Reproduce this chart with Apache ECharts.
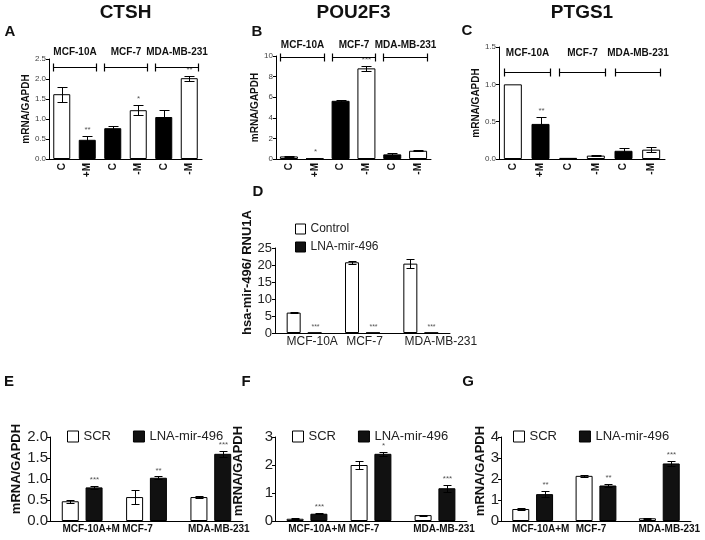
<!DOCTYPE html>
<html><head><meta charset="utf-8">
<script src="https://cdn.jsdelivr.net/npm/echarts@6/dist/echarts.min.js"></script>
<style>html,body{margin:0;padding:0;background:#fff}#c{width:705px;height:540px}</style>
</head><body><div id="c"></div>
<script>
// ---------------- DATA ----------------
const abcCategories = ['C', '+M', 'C', '-M', 'C', '-M'];
const cellLines = ['MCF-10A', 'MCF-7', 'MDA-MB-231'];
const cellGroups = [[0, 1], [2, 3], [4, 5]];

const ctshValues = [1.62, 0.48, 0.77, 1.22, 1.05, 2.02];
const ctshErrors = [0.19, 0.09, 0.06, 0.13, 0.18, 0.06];
const ctshSig = ['', '**', '', '*', '', '**'];

const pou2f3Values = [0.25, 0.05, 5.65, 8.80, 0.45, 0.80];
const pou2f3Errors = [0.06, 0.02, 0.08, 0.25, 0.10, 0.03];
const pou2f3Sig = ['', '*', '', '***', '', ''];

const ptgs1Values = [1.00, 0.47, 0.015, 0.045, 0.11, 0.125];
const ptgs1Errors = [0, 0.09, 0.005, 0.01, 0.035, 0.03];
const ptgs1Sig = ['', '**', '', '', '', ''];

const dCategories = ['MCF-10A', 'MCF-7', 'MDA-MB-231'];
const dControl = [6.0, 20.8, 20.4];
const dControlErr = [0.15, 0.5, 1.4];
const dLNA = [0.1, 0.1, 0.1];
const dLNAErr = [0, 0, 0];
const dLNASig = ['***', '***', '***'];

const efgCategories = ['MCF-10A+M', 'MCF-7', 'MDA-MB-231'];
const eSCR = [0.47, 0.57, 0.57];
const eSCRErr = [0.04, 0.16, 0.02];
const eLNA = [0.80, 1.03, 1.60];
const eLNAErr = [0.03, 0.03, 0.07];
const eSig = ['***', '**', '***'];

const fSCR = [0.08, 2.00, 0.21];
const fSCRErr = [0.01, 0.15, 0.02];
const fLNA = [0.26, 2.40, 1.17];
const fLNAErr = [0.02, 0.07, 0.13];
const fSig = ['***', '*', '***'];

const gSCR = [0.57, 2.15, 0.13];
const gSCRErr = [0.03, 0.06, 0.03];
const gLNA = [1.28, 1.69, 2.74];
const gLNAErr = [0.16, 0.07, 0.13];
const gSig = ['**', '**', '***'];

// ---------------- STYLE / LAYOUT ----------------
const FONT = 'Arial, "Liberation Sans", Helvetica, sans-serif';
const topFills = ['#fff', '#000', '#000', '#fff', '#000', '#fff'];

const grids = [], xAxes = [], yAxes = [], series = [], legends = [], graphics = [];

function errRender(offsetPx, capW, sig, starSize) {
  return function (params, api) {
    const i = api.value(0), v = api.value(1), e = api.value(2);
    const top = api.coord([i, v + e]);
    const bot = api.coord([i, Math.max(0, v - e)]);
    const x = Math.round(top[0] + offsetPx) + 0.5;
    const children = [];
    if (e > 0) {
      const yt = Math.round(top[1]) + 0.5, yb = Math.round(bot[1]) + 0.5;
      const st = { stroke: '#000', lineWidth: 1 };
      children.push({ type: 'line', shape: { x1: x, y1: yt, x2: x, y2: yb }, style: st });
      children.push({ type: 'line', shape: { x1: x - capW / 2, y1: yt, x2: x + capW / 2, y2: yt }, style: st });
      children.push({ type: 'line', shape: { x1: x - capW / 2, y1: yb, x2: x + capW / 2, y2: yb }, style: st });
    }
    if (sig[i]) {
      children.push({ type: 'text', style: { text: sig[i], x: x, y: top[1] - 2, align: 'center', verticalAlign: 'bottom', fill: '#555', font: starSize + 'px ' + FONT } });
    }
    return { type: 'group', children };
  };
}

function textG(text, x, y, size, weight, align) {
  graphics.push({ type: 'text', style: { text, x, y, align: align || 'center', verticalAlign: 'middle', font: (weight || 'bold') + ' ' + size + 'px ' + FONT, fill: '#111' } });
}

function shiftedLabels(shifts, base) {
  const rich = {};
  shifts.forEach((s, i) => {
    rich['s' + i] = Object.assign({}, base, { padding: s >= 0 ? [0, 0, 0, 2 * s] : [0, -2 * s, 0, 0] });
  });
  return { formatter: (val, idx) => '{s' + idx + '|' + val + '}', rich };
}

// ---------- panels A-C ----------
const topPanels = [
  { title: 'CTSH', letter: 'A', lx: 10, ly: 32, vals: ctshValues, errs: ctshErrors, sig: ctshSig,
    grid: { left: 49, top: 59, width: 153, height: 100 }, max: 2.5, interval: 0.5, dec: 1, bw: 17, bracket: 8, lgap: 15, nameGap: 15 },
  { title: 'POU2F3', letter: 'B', lx: 257, ly: 32, vals: pou2f3Values, errs: pou2f3Errors, sig: pou2f3Sig,
    grid: { left: 276, top: 56, width: 155, height: 103 }, max: 10, interval: 2, dec: 0, bw: 18, bracket: 1, lgap: 12, nameGap: 14 },
  { title: 'PTGS1', letter: 'C', lx: 467, ly: 31, vals: ptgs1Values, errs: ptgs1Errors, sig: ptgs1Sig,
    grid: { left: 499, top: 47, width: 166, height: 112 }, max: 1.5, interval: 0.5, dec: 1, bw: 18, bracket: 25, lgap: 19, nameGap: 13 }
];

topPanels.forEach(p => {
  const gi = grids.length;
  grids.push(p.grid);
  textG(p.title, p.grid.left + p.grid.width / 2, 13, 19, 'bold');
  textG(p.letter, p.lx, p.ly, 15, 'bold');
  xAxes.push({ type: 'category', gridIndex: gi, data: abcCategories,
    axisLine: { lineStyle: { color: '#000', width: 1 } },
    axisTick: { alignWithLabel: true, length: 3, lineStyle: { color: '#000' } },
    axisLabel: { rotate: 90, margin: 4, fontFamily: FONT, fontWeight: 'bold', fontSize: 10, color: '#111', interval: 0 } });
  yAxes.push({ type: 'value', gridIndex: gi, min: 0, max: p.max, interval: p.interval,
    name: 'mRNA/GAPDH', nameLocation: 'middle', nameGap: p.nameGap,
    nameTextStyle: { fontFamily: FONT, fontWeight: 'bold', fontSize: 10, color: '#111' },
    splitLine: { show: false },
    axisLine: { show: true, lineStyle: { color: '#000', width: 1 } },
    axisTick: { show: true, length: 3, lineStyle: { color: '#000' } },
    axisLabel: { fontFamily: FONT, fontSize: 8, color: '#444', margin: 3, formatter: v => v.toFixed(p.dec) } });
  const ai = xAxes.length - 1;
  series.push({ type: 'bar', xAxisIndex: ai, yAxisIndex: ai, barWidth: p.bw, silent: true,
    data: p.vals.map((v, i) => ({ value: v, itemStyle: { color: topFills[i], borderColor: '#000', borderWidth: 1 } })) });
  series.push({ type: 'custom', xAxisIndex: ai, yAxisIndex: ai, silent: true, z: 5,
    renderItem: errRender(0, 10, p.sig, 8),
    data: p.vals.map((v, i) => [i, v, p.errs[i]]) });
  // brackets + cell line labels
  series.push({ type: 'custom', xAxisIndex: ai, yAxisIndex: ai, silent: true, clip: false, z: 5,
    renderItem: function (params, api) {
      const cs = params.coordSys;
      const xs = Math.round(api.coord([api.value(0), 0])[0] - p.bw / 2) + 0.5;
      const xe = Math.round(api.coord([api.value(1), 0])[0] + p.bw / 2) + 0.5;
      const yb = Math.round(cs.y + p.bracket) + 0.5;
      const st = { stroke: '#000', lineWidth: 1.2 };
      return { type: 'group', children: [
        { type: 'line', shape: { x1: xs, y1: yb, x2: xe, y2: yb }, style: st },
        { type: 'line', shape: { x1: xs, y1: yb - 4, x2: xs, y2: yb + 4 }, style: st },
        { type: 'line', shape: { x1: xe, y1: yb - 4, x2: xe, y2: yb + 4 }, style: st },
        { type: 'text', style: { text: cellLines[params.dataIndex], x: (xs + xe) / 2, y: yb - p.lgap, align: 'center', verticalAlign: 'middle', font: 'bold 10px ' + FONT, fill: '#111' } }
      ] };
    },
    data: cellGroups });
});

// ---------- panel D ----------
(function () {
  const gi = grids.length;
  grids.push({ left: 275, top: 248, width: 175, height: 85 });
  textG('D', 258, 192, 15, 'bold');
  xAxes.push({ type: 'category', gridIndex: gi, data: dCategories,
    axisLine: { lineStyle: { color: '#000', width: 1 } }, axisTick: { show: false },
    axisLabel: Object.assign({ margin: 3, interval: 0 }, shiftedLabels([8, 2, 20], { fontFamily: FONT, fontSize: 12, color: '#222' })) });
  yAxes.push({ type: 'value', gridIndex: gi, min: 0, max: 25, interval: 5,
    name: 'hsa-mir-496/ RNU1A', nameLocation: 'middle', nameGap: 20,
    nameTextStyle: { fontFamily: FONT, fontWeight: 'bold', fontSize: 13, color: '#111', padding: [0, 0, 0, 36] },
    splitLine: { show: false },
    axisLine: { show: true, lineStyle: { color: '#000', width: 1 } },
    axisTick: { show: true, length: 3, lineStyle: { color: '#000' } },
    axisLabel: { fontFamily: FONT, fontSize: 13, color: '#222', margin: 3 } });
  const ai = xAxes.length - 1;
  const bw = 14, gapPct = 0.5, off = (bw + bw * gapPct) / 2;
  series.push({ name: 'Control', type: 'bar', xAxisIndex: ai, yAxisIndex: ai, barWidth: bw, barGap: '50%', silent: true,
    itemStyle: { color: '#fff', borderColor: '#000', borderWidth: 1 }, data: dControl });
  series.push({ name: 'LNA-mir-496', type: 'bar', xAxisIndex: ai, yAxisIndex: ai, barWidth: bw, barGap: '50%', silent: true,
    itemStyle: { color: '#111', borderColor: '#000', borderWidth: 1 }, data: dLNA });
  series.push({ type: 'custom', xAxisIndex: ai, yAxisIndex: ai, silent: true, z: 5,
    renderItem: errRender(-off, 8, ['', '', ''], 7), data: dControl.map((v, i) => [i, v, dControlErr[i]]) });
  series.push({ type: 'custom', xAxisIndex: ai, yAxisIndex: ai, silent: true, z: 5,
    renderItem: errRender(off, 8, dLNASig, 7), data: dLNA.map((v, i) => [i, v, dLNAErr[i]]) });
  legends.push({ orient: 'vertical', left: 290, top: 218, itemWidth: 10, itemHeight: 10, itemGap: 6, icon: 'rect',
    selectedMode: false, textStyle: { fontFamily: FONT, fontSize: 12, color: '#222' },
    data: [{ name: 'Control', itemStyle: { color: '#fff', borderColor: '#000', borderWidth: 1 } },
           { name: 'LNA-mir-496', itemStyle: { color: '#111', borderColor: '#000', borderWidth: 1 } }] });
})();

// ---------- panels E-G ----------
const botPanels = [
  { letter: 'E', lx: 9, ly: 382, scr: eSCR, scrE: eSCRErr, lna: eLNA, lnaE: eLNAErr, sig: eSig,
    grid: { left: 50, top: 437, width: 193, height: 84 }, max: 2, interval: 0.5, dec: 1, nameGap: 17, namePad: 20, shifts: [9, -9, 8], legendLeft: 62 },
  { letter: 'F', lx: 246, ly: 382, scr: fSCR, scrE: fSCRErr, lna: fLNA, lnaE: fLNAErr, sig: fSig,
    grid: { left: 275, top: 437, width: 192, height: 84 }, max: 3, interval: 1, dec: 0, nameGap: 30, namePad: 16, shifts: [10, -7, 9], legendLeft: 287 },
  { letter: 'G', lx: 468, ly: 382, scr: gSCR, scrE: gSCRErr, lna: gLNA, lnaE: gLNAErr, sig: gSig,
    grid: { left: 501, top: 437, width: 190, height: 84 }, max: 4, interval: 1, dec: 0, nameGap: 9, namePad: 16, shifts: [8, -5, 10], legendLeft: 508 }
];

botPanels.forEach(p => {
  const gi = grids.length;
  grids.push(p.grid);
  textG(p.letter, p.lx, p.ly, 15, 'bold');
  xAxes.push({ type: 'category', gridIndex: gi, data: efgCategories,
    axisLine: { lineStyle: { color: '#000', width: 1 } }, axisTick: { show: false },
    axisLabel: Object.assign({ margin: 3, interval: 0 }, shiftedLabels(p.shifts, { fontFamily: FONT, fontSize: 10, fontWeight: 'bold', color: '#111' })) });
  yAxes.push({ type: 'value', gridIndex: gi, min: 0, max: p.max, interval: p.interval,
    name: 'mRNA/GAPDH', nameLocation: 'middle', nameGap: p.nameGap,
    nameTextStyle: { fontFamily: FONT, fontWeight: 'bold', fontSize: 13, color: '#111', padding: [0, 0, 0, p.namePad] },
    splitLine: { show: false },
    axisLine: { show: true, lineStyle: { color: '#000', width: 1 } },
    axisTick: { show: true, length: 3, lineStyle: { color: '#000' } },
    axisLabel: { fontFamily: FONT, fontSize: 15, color: '#222', margin: 2, formatter: v => v.toFixed(p.dec) } });
  const ai = xAxes.length - 1;
  const bw = 17, gapPct = 0.4, off = (bw + bw * gapPct) / 2;
  series.push({ name: 'SCR', type: 'bar', xAxisIndex: ai, yAxisIndex: ai, barWidth: bw, barGap: '40%', silent: true,
    itemStyle: { color: '#fff', borderColor: '#000', borderWidth: 1 }, data: p.scr });
  series.push({ name: 'LNA-mir-496', type: 'bar', xAxisIndex: ai, yAxisIndex: ai, barWidth: bw, barGap: '40%', silent: true,
    itemStyle: { color: '#111', borderColor: '#000', borderWidth: 1 }, data: p.lna });
  series.push({ type: 'custom', xAxisIndex: ai, yAxisIndex: ai, silent: true, z: 5,
    renderItem: errRender(-off, 8, ['', '', ''], 8), data: p.scr.map((v, i) => [i, v, p.scrE[i]]) });
  series.push({ type: 'custom', xAxisIndex: ai, yAxisIndex: ai, silent: true, z: 5,
    renderItem: errRender(off, 8, p.sig, 8), data: p.lna.map((v, i) => [i, v, p.lnaE[i]]) });
  legends.push({ orient: 'horizontal', left: p.legendLeft, top: 425, itemWidth: 11, itemHeight: 11, itemGap: 22, icon: 'rect',
    selectedMode: false, textStyle: { fontFamily: FONT, fontSize: 13, color: '#222' },
    data: [{ name: 'SCR', itemStyle: { color: '#fff', borderColor: '#000', borderWidth: 1 } },
           { name: 'LNA-mir-496', itemStyle: { color: '#111', borderColor: '#000', borderWidth: 1 } }] });
});

const chart = echarts.init(document.getElementById('c'), null, { renderer: 'canvas' });
chart.setOption({
  animation: false,
  backgroundColor: '#fff',
  grid: grids,
  xAxis: xAxes,
  yAxis: yAxes,
  legend: legends,
  series: series,
  graphic: graphics
});
</script>
</body></html>
